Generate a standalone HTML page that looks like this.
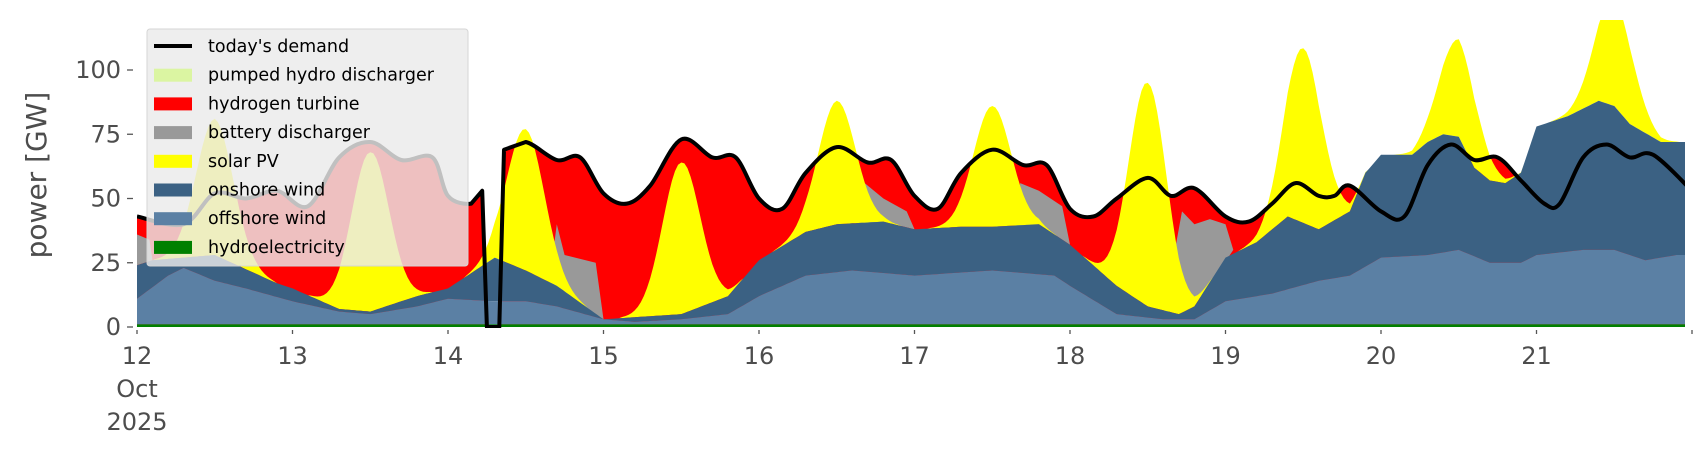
<!DOCTYPE html>
<html><head><meta charset="utf-8"><style>
html,body{margin:0;padding:0;background:#fff}
svg{display:block}
text{font-family:"DejaVu Sans","Liberation Sans",sans-serif;fill:#4d4d4d}
</style></head><body>
<svg id="s" width="1706" height="460" xmlns="http://www.w3.org/2000/svg">
<defs><clipPath id="c"><rect x="137" y="20" width="1548" height="308"/></clipPath></defs>
<g id="plot" clip-path="url(#c)"></g>
<g id="axes"></g>
</svg>
<script>
const X=t=>137+(t-12)*155.5, Y=v=>327-v*2.57;
function interp(pts,t){if(t<=pts[0][0])return pts[0][1];for(let i=1;i<pts.length;i++){if(t<=pts[i][0]){const a=pts[i-1],b=pts[i];return a[1]+(b[1]-a[1])*(t-a[0])/(b[0]-a[0]);}}return pts[pts.length-1][1];}
const off=[[12,11],[12.2,20],[12.3,23],[12.5,18],[12.7,15],[13,10],[13.3,6],[13.5,5],[13.8,8],[14,11],[14.3,10],[14.5,10],[14.7,8],[15,3],[15.2,2],[15.5,3],[15.8,5],[16,12],[16.3,20],[16.6,22],[17,20],[17.5,22],[17.9,20],[18,16],[18.3,5],[18.6,3],[18.8,3],[19,10],[19.3,13],[19.6,18],[19.8,20],[20,27],[20.3,28],[20.5,30],[20.7,25],[20.9,25],[21,28],[21.3,30],[21.5,30],[21.7,26],[21.9,28],[22,28]];
const on=[[12,24],[12.1,26],[12.5,28],[12.9,17],[13,15],[13.3,7],[13.5,6],[13.8,12],[14,15],[14.3,27],[14.5,22],[14.7,16],[15,3],[15.5,5],[15.8,12],[16,26],[16.3,37],[16.5,40],[16.8,41],[17,38],[17.3,39],[17.5,39],[17.8,40],[18,32],[18.3,16],[18.5,8],[18.7,5],[18.8,8],[19,27],[19.2,33],[19.4,43],[19.6,38],[19.8,45],[19.9,60],[20,67],[20.2,67],[20.3,72],[20.4,75],[20.5,74],[20.6,62],[20.7,57],[20.8,56],[20.9,60],[21,78],[21.2,82],[21.4,88],[21.5,86],[21.6,79],[21.8,72],[22,72]];
const dem=[[12,43],[12.3,40],[12.5,52],[12.7,50],[12.9,53],[13.1,47],[13.3,66],[13.5,72],[13.7,65],[13.9,66],[14,51],[14.15,48],[14.22,53],[14.25,0],[14.33,0],[14.36,69],[14.5,72],[14.7,65],[14.85,66],[15,52],[15.15,48],[15.3,55],[15.5,73],[15.7,66],[15.85,66],[16,50],[16.15,46],[16.3,60],[16.5,70],[16.7,64],[16.85,65],[17,51],[17.15,46],[17.3,60],[17.5,69],[17.7,63],[17.85,63],[18,46],[18.15,43],[18.3,50],[18.5,58],[18.65,51],[18.8,54],[19,43],[19.15,41],[19.3,48],[19.45,56],[19.6,51],[19.7,51],[19.8,55],[20,45],[20.15,43],[20.3,63],[20.45,71],[20.6,65],[20.75,66],[20.9,57],[21.05,48],[21.15,48],[21.3,66],[21.45,71],[21.6,66],[21.75,67],[22,53]];
const peaks=[[12.5,53],[13.5,62],[14.5,55],[15.5,59],[16.5,48],[17.5,47],[18.5,87],[19.5,68],[20.5,38],[21.5,42]];
const solar=t=>{let s=0;for(const[c,h]of peaks){if(Math.abs(t-c)<0.4)s+=h*Math.exp(-Math.pow((t-c)/0.17,2));}return s;};
const ts=[];for(let t=12;t<=21.96;t+=0.02)ts.push(+t.toFixed(3));
function area(topf,botf,col){let d='M'+ts.map(t=>X(t).toFixed(1)+','+Y(topf(t)).toFixed(1)).join('L');d+='L'+ts.slice().reverse().map(t=>X(t).toFixed(1)+','+Y(botf(t)).toFixed(1)).join('L')+'Z';return `<path d="${d}" fill="${col}"/>`;}
function poly(pts,col){return `<polygon points="${pts.map(p=>X(p[0]).toFixed(1)+','+Y(p[1]).toFixed(1)).join(' ')}" fill="${col}"/>`;}
function smooth(pts){const P=pts.map(p=>[X(p[0]),Y(p[1])]);const big=(i,j)=>(i>=0&&j<P.length&&Math.abs(P[j][1]-P[i][1])>60);let d='M'+P[0][0].toFixed(1)+','+P[0][1].toFixed(1);for(let i=0;i<P.length-1;i++){const p0=P[Math.max(0,i-1)],p1=P[i],p2=P[i+1],p3=P[Math.min(P.length-1,i+2)];const k=(big(i,i+1)||big(i-1,i)||big(i+1,i+2))?0:1/6;const c1=[p1[0]+(p2[0]-p0[0])*k,p1[1]+(p2[1]-p0[1])*k],c2=[p2[0]-(p3[0]-p1[0])*k,p2[1]-(p3[1]-p1[1])*k];d+=`C${c1[0].toFixed(1)},${c1[1].toFixed(1)} ${c2[0].toFixed(1)},${c2[1].toFixed(1)} ${p2[0].toFixed(1)},${p2[1].toFixed(1)}`;}return d;}
let h='';
const D=t=>interp(dem,t),O=t=>interp(off,t),N=t=>interp(on,t);
h+=`<path d="${smooth(dem)}L${X(22)},${Y(0)}L${X(12)},${Y(0)}Z" fill="#ff0000"/>`;
h+=poly([[12,24],[12,36],[12.08,34],[12.1,26]],'#999');
h+=poly([[14.65,17],[14.7,40],[14.75,28],[14.95,25],[15,3],[14.85,8]],'#999');
h+=poly([[16.65,40],[16.68,56],[16.8,50],[16.95,45],[17,38],[16.8,41]],'#999');
h+=poly([[17.65,39],[17.68,56],[17.8,53],[17.95,47],[18,32],[17.8,40]],'#999');
h+=poly([[18.6,5],[18.72,45],[18.8,40],[18.9,42],[19.0,40],[19.05,30],[18.85,12]],'#999');
h+=area(t=>N(t)+solar(t),N,'#ffff00');
h+=area(N,O,'#3b6183');
h+=area(O,()=>1,'#5b80a4');
h+=area(()=>1,()=>0,'#008000');
h+=`<path d="${smooth(dem)}" fill="none" stroke="#000" stroke-width="4" stroke-linejoin="round"/>`;
document.getElementById('plot').innerHTML=h;
let a='';
a+=`<rect x="147" y="29" width="321" height="237" rx="3" fill="rgba(234,234,234,0.82)" stroke="#d5d5d5"/>`;
const items=[["today's demand",null],["pumped hydro discharger","#dbf5a2"],["hydrogen turbine","#ff0000"],["battery discharger","#999"],["solar PV","#ffff00"],["onshore wind","#3b6183"],["offshore wind","#5b80a4"],["hydroelectricity","#008000"]];
items.forEach((it,i)=>{const y=46+i*28.7;
 if(it[1]===null)a+=`<line x1="154" x2="192" y1="${y}" y2="${y}" stroke="#000" stroke-width="4"/>`;
 else a+=`<rect x="154" y="${y-6}" width="38" height="13" fill="${it[1]}"/>`;
 a+=`<text x="208" y="${y+6}" font-size="17.5" style="fill:#000">${it[0]}</text>`;});
[0,25,50,75,100].forEach(v=>{const y=Y(v);a+=`<line x1="127" x2="133" y1="${y}" y2="${y}" stroke="#555" stroke-width="1.3"/><text x="121" y="${y+8}" font-size="24" text-anchor="end">${v}</text>`;});
for(let d=12;d<=22;d++){const x=X(d);a+=`<line x1="${x}" x2="${x}" y1="330" y2="334" stroke="#555" stroke-width="1.3"/>`;if(d<22)a+=`<text x="${x}" y="364" font-size="24" text-anchor="middle">${d}</text>`;}
a+=`<text x="137" y="397" font-size="24" text-anchor="middle">Oct</text><text x="137" y="430" font-size="24" text-anchor="middle">2025</text>`;
a+=`<text transform="translate(46,175) rotate(-90)" font-size="28" text-anchor="middle">power [GW]</text>`;
document.getElementById('axes').innerHTML=a;
</script>
</body></html>
